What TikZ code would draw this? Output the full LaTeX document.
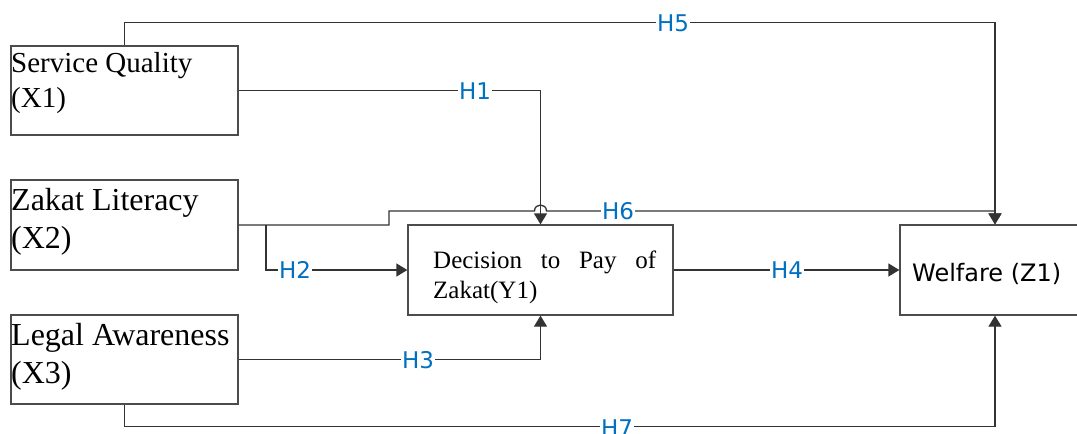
\documentclass[tikz,border=0pt]{standalone}
\usepackage{fontspec}
\usetikzlibrary{arrows.meta}
\newfontfamily\dejavu{DejaVu Sans}
\newfontfamily\seriffont{Liberation Serif}
\definecolor{hblue}{RGB}{0,112,192}
\tikzset{
  box/.style={draw=black!70, line width=1.3pt, rectangle, inner sep=0pt},
  con/.style={draw=black!80, line width=1.3pt, -{Triangle[length=11pt,width=13pt]}},
  lab/.style={fill=white, text=hblue, font=\dejavu\fontsize{23}{25}\selectfont, inner sep=1.5pt},
  ttext/.style={anchor=base west, inner sep=0pt, text=black}
}
\begin{document}
\begin{tikzpicture}[x=1pt,y=-1pt]
\useasboundingbox (0,0) rectangle (1077,434);
\clip (0,0) rectangle (1077,434);
% boxes
\node[box, minimum width=227pt, minimum height=89pt] (x1) at (124.5,90.5) {};
\node[box, minimum width=227pt, minimum height=90pt] (x2) at (124.5,225) {};
\node[box, minimum width=227pt, minimum height=89pt] (x3) at (124.5,359.5) {};
\node[box, minimum width=265pt, minimum height=90pt] (y1) at (540.5,270) {};
\node[box, minimum width=190pt, minimum height=90pt] (z1) at (995,270) {};
% texts
\node[ttext, font=\seriffont\fontsize{29}{32}\selectfont] (t1a) at (11,72) {Service Quality};
\node[ttext, font=\seriffont\fontsize{29}{32}\selectfont] (t1b) at (11,107) {(X1)};
\node[ttext, font=\seriffont\fontsize{32}{36}\selectfont] (t2a) at (11,210) {Zakat Literacy};
\node[ttext, font=\seriffont\fontsize{32}{36}\selectfont] (t2b) at (11,248) {(X2)};
\node[ttext, font=\seriffont\fontsize{32}{36}\selectfont] (t3a) at (11,345) {Legal Awareness};
\node[ttext, font=\seriffont\fontsize{32}{36}\selectfont] (t3b) at (11,383) {(X3)};
\node[ttext, font=\seriffont\fontsize{25}{28}\selectfont] (tya) at (433,268) {\makebox[223pt][s]{Decision\hfill to\hfill Pay\hfill of}};
\node[ttext, font=\seriffont\fontsize{25}{28}\selectfont] (tyb) at (433,298) {Zakat(Y1)};
\node[ttext, font=\dejavu\fontsize{24}{28}\selectfont] (tz) at (912,281) {Welfare (Z1)};
% connectors
\coordinate (br) at (266,225);
\draw[con] (x1.north) -- ++(0,-23) -| (z1.north);
\draw[con] (x1.east) -| (y1.north);
\draw[con] (x2.east) -- (389,225) -- (389,211) -- (534.5,211)
   .. controls (534.5,203) and (546.5,203) .. (546.5,211) -| (z1.north);
\draw[con] (br) |- (y1.west);
\draw[con] (y1.east) -- (z1.west);
\draw[con] (x3.east) -| (y1.south);
\draw[con] (x3.south) -- ++(0,22) -| (z1.south);
% labels
\node[lab] (h5) at (673,23) {H5};
\node[lab] (h1) at (475,91) {H1};
\node[lab] (h6) at (618,211) {H6};
\node[lab] (h2) at (295,270) {H2};
\node[lab] (h4) at (787,270) {H4};
\node[lab] (h3) at (418,360) {H3};
\node[lab] (h7) at (617,428) {H7};
\end{tikzpicture}
\end{document}
